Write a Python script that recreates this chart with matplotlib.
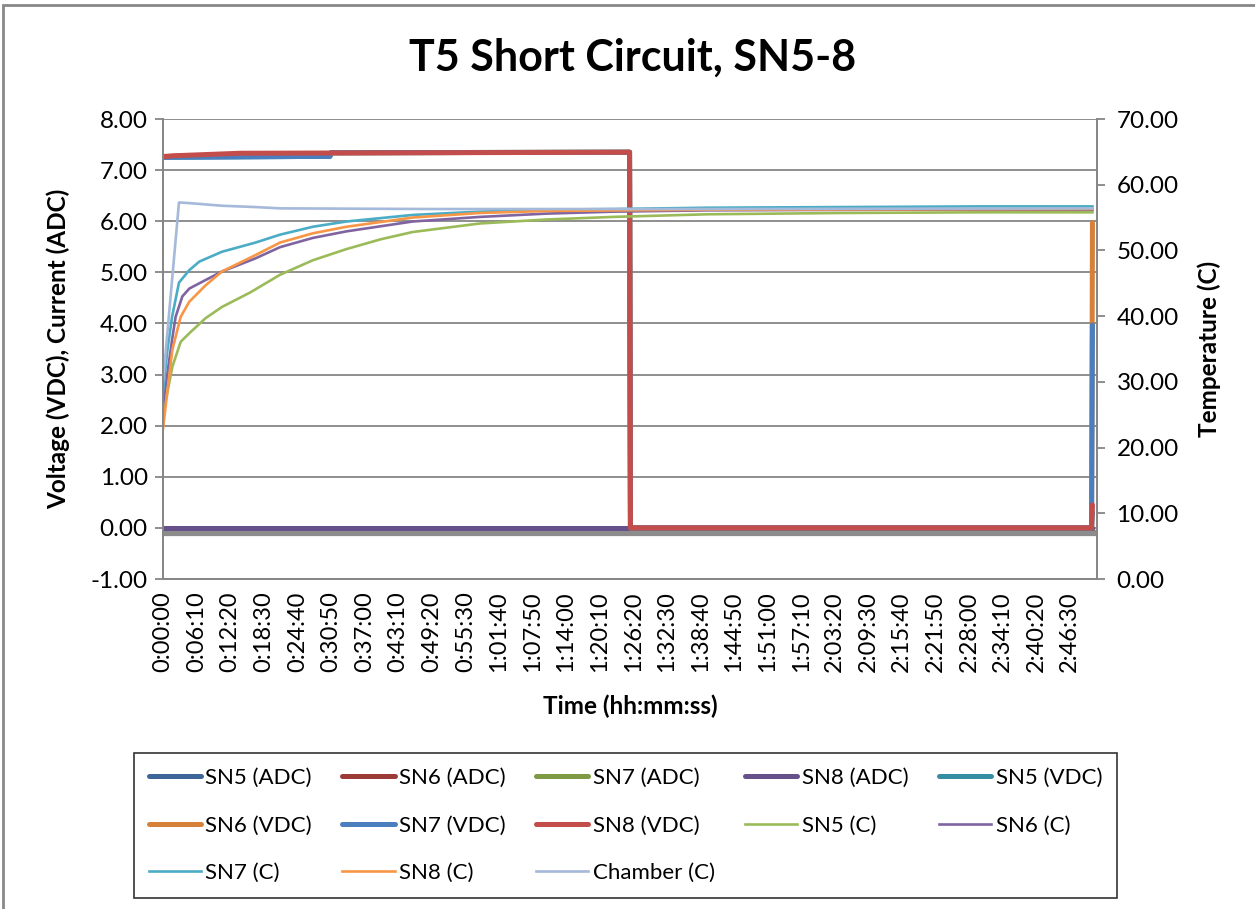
import matplotlib
matplotlib.use("Agg")
import matplotlib.pyplot as plt
from matplotlib.patches import Rectangle
from matplotlib.ticker import FuncFormatter, MultipleLocator

plt.rcParams['font.family'] = ['Lato', 'DejaVu Sans']

# time in seconds since start of test
T_END = 10240

# currents (ADC) - flat at zero for the whole test
adc_t = [0, T_END]
sn5_adc = [0.0, 0.0]
sn6_adc = [0.0, 0.0]
sn7_adc = [0.0, 0.0]
sn8_adc = [0.0, 0.0]

# voltages (VDC)
sn5_vdc_t = [0, 1840, 1850, 5140, 5150, 10230, 10240]
sn5_vdc = [7.25, 7.27, 7.34, 7.35, 0.0, 0.0, 0.30]
sn6_vdc_t = [0, 1840, 1850, 5140, 5150, 10230, 10240]
sn6_vdc = [7.27, 7.30, 7.34, 7.35, 0.0, 0.0, 5.97]
sn7_vdc_t = [0, 1840, 1850, 5140, 5150, 10230, 10240]
sn7_vdc = [7.25, 7.27, 7.34, 7.35, 0.0, 0.0, 3.97]
sn8_vdc_t = [0, 110, 850, 5140, 5150, 10230, 10240]
sn8_vdc = [7.26, 7.28, 7.33, 7.35, 0.0, 0.0, 0.45]

# temperatures (C)
sn5_c_t = [0, 103, 195, 290, 470, 650, 960, 1290, 1650, 2020, 2400, 2750, 3490, 4220, 4960, 6000, 7500, 9000, T_END]
sn5_c = [25.0, 32.3, 36.1, 37.4, 39.7, 41.4, 43.6, 46.3, 48.5, 50.2, 51.7, 52.8, 54.1, 54.7, 55.1, 55.5, 55.7, 55.8, 55.8]
sn6_c_t = [0, 100, 139, 213, 290, 470, 650, 1020, 1290, 1650, 2020, 2750, 3490, 4220, 4960, 6000, 8000, T_END]
sn6_c = [26.5, 36.4, 39.9, 43.0, 44.2, 45.5, 46.8, 48.8, 50.5, 51.9, 52.9, 54.4, 55.1, 55.6, 55.9, 56.1, 56.2, 56.2]
sn7_c_t = [0, 50, 100, 176, 290, 400, 650, 1020, 1290, 1650, 2020, 2750, 3490, 4220, 4960, 6000, 7500, 9000, T_END]
sn7_c = [28.5, 35.0, 39.9, 45.1, 47.0, 48.3, 49.8, 51.2, 52.4, 53.6, 54.4, 55.4, 55.9, 56.2, 56.3, 56.5, 56.6, 56.7, 56.7]
sn8_c_t = [0, 103, 195, 290, 470, 650, 1020, 1290, 1650, 2020, 2750, 3490, 4220, 6000, T_END]
sn8_c = [22.9, 34.9, 39.9, 42.2, 44.7, 46.8, 49.3, 51.2, 52.6, 53.6, 55.0, 55.7, 56.0, 56.2, 56.3]
chamber_t = [0, 176, 290, 650, 1020, 1290, 3000, 6000, T_END]
chamber_c = [30.0, 57.3, 57.2, 56.8, 56.6, 56.4, 56.3, 56.3, 56.4]


def hms(x, pos=None):
    s = int(round(x))
    return f"{s // 3600}:{(s % 3600) // 60:02d}:{s % 60:02d}"


fig = plt.figure(figsize=(12.55, 9.09), dpi=100)
W, H = 1255, 909
ax = fig.add_axes([163 / W, 1 - 579 / H, (1097 - 163) / W, 460 / H])
ax2 = ax.twinx()

grid_col = '#868686'
ax.axhline(-0.1, color='#8c8c8c', lw=4.5, zorder=1)

thick = 3.6
left_series = [
    (adc_t, sn5_adc, '#3E6597', 'SN5 (ADC)'),
    (adc_t, sn6_adc, '#9D3B38', 'SN6 (ADC)'),
    (adc_t, sn7_adc, '#7F9A44', 'SN7 (ADC)'),
    (adc_t, sn8_adc, '#66518A', 'SN8 (ADC)'),
    (sn5_vdc_t, sn5_vdc, '#368EA5', 'SN5 (VDC)'),
    (sn6_vdc_t, sn6_vdc, '#D6803A', 'SN6 (VDC)'),
    (sn7_vdc_t, sn7_vdc, '#4A7EBE', 'SN7 (VDC)'),
    (sn8_vdc_t, sn8_vdc, '#C34D4A', 'SN8 (VDC)'),
]
handles = []
for t, v, c, name in left_series:
    h, = ax.plot(t, v, color=c, lw=thick, label=name, zorder=3,
                 solid_capstyle='round', solid_joinstyle='round')
    handles.append(h)

right_series = [
    (sn5_c_t, sn5_c, '#9BBB59', 'SN5 (C)'),
    (sn6_c_t, sn6_c, '#8064A2', 'SN6 (C)'),
    (sn7_c_t, sn7_c, '#4BACC6', 'SN7 (C)'),
    (sn8_c_t, sn8_c, '#F79646', 'SN8 (C)'),
    (chamber_t, chamber_c, '#A5B9DA', 'Chamber (C)'),
]
for t, v, c, name in right_series:
    h, = ax2.plot(t, v, color=c, lw=1.9, label=name)
    handles.append(h)

ax.set_xlim(0, 10290)
ax.set_ylim(-1, 8)
ax2.set_ylim(0, 70)
ax.yaxis.set_major_locator(MultipleLocator(1))
ax2.yaxis.set_major_locator(MultipleLocator(10))
ax.yaxis.set_major_formatter(FuncFormatter(lambda v, p: f"{v:.2f}"))
ax2.yaxis.set_major_formatter(FuncFormatter(lambda v, p: f"{v:.2f}"))
ax.xaxis.set_major_locator(MultipleLocator(370))
ax.xaxis.set_major_formatter(FuncFormatter(hms))
ax.grid(axis='y', color=grid_col, lw=1.3)
ax.set_axisbelow(True)

for a in (ax, ax2):
    for sp in a.spines.values():
        sp.set_color(grid_col)
        sp.set_linewidth(1.3)
    a.spines['top'].set_visible(False)

ax.tick_params(axis='y', labelsize=17.5, length=6, width=1.3, color=grid_col, pad=5)
ax2.tick_params(axis='y', labelsize=17.5, length=6, width=1.3, color=grid_col, pad=8)
ax.tick_params(axis='x', labelsize=17, length=0, pad=9, labelrotation=90)

ax.set_ylabel('Voltage (VDC), Current (ADC)', fontsize=17.5, fontweight='bold')
ax.yaxis.set_label_coords(-0.099, 0.5)
ax2.set_ylabel('Temperature (C)', fontsize=17.5, fontweight='bold')
ax2.yaxis.set_label_coords(1.108, 0.5)
ax.set_xlabel('Time (hh:mm:ss)', fontsize=17.5, fontweight='bold')
ax.xaxis.set_label_coords(0.5, -0.252)

fig.text(633 / W, 1 - 58 / H, 'T5 Short Circuit, SN5-8', fontsize=31,
         fontweight='bold', ha='center', va='center')

# legend filled row by row like the original
order = [0, 5, 10, 1, 6, 11, 2, 7, 12, 3, 8, 4, 9]
leg_h = [handles[i] for i in order]
leg_l = [h.get_label() for h in leg_h]
leg = fig.legend(leg_h, leg_l, ncol=5, loc='upper left',
                 bbox_to_anchor=(134 / W, 1 - 753 / H), fontsize=16,
                 frameon=True, fancybox=False, edgecolor='black',
                 handlelength=2.35, handletextpad=0.2, columnspacing=1.37,
                 labelspacing=1.25, borderpad=0.66, borderaxespad=0)
leg.get_frame().set_linewidth(1.2)

fig.patches.append(Rectangle((3 / W, -0.1), 1.2, 1.1 - 5 / H, fill=False,
                             edgecolor='#888888', lw=2, transform=fig.transFigure))

fig.savefig('out.png', dpi=100)
